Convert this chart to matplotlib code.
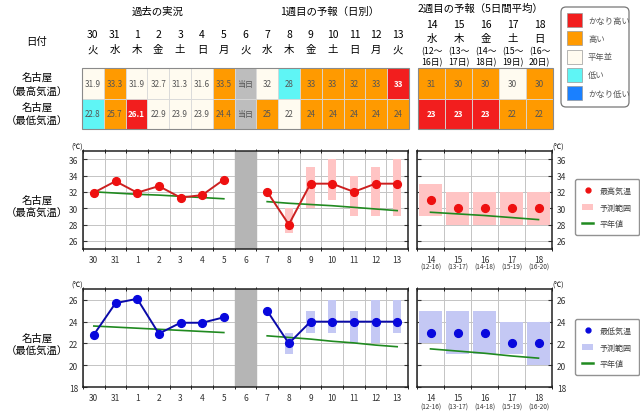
import matplotlib.pyplot as plt
from matplotlib.patches import Rectangle, Patch, FancyBboxPatch
from matplotlib.lines import Line2D

plt.rcParams['font.family'] = ['Noto Sans CJK JP', 'DejaVu Sans']

# ---- data ----
days = ['30', '31', '1', '2', '3', '4', '5', '6', '7', '8', '9', '10', '11', '12', '13']
weekdays = ['火', '水', '木', '金', '土', '日', '月', '火', '水', '木', '金', '土', '日', '月', '火']
today_idx = 7

max_obs = [31.9, 33.3, 31.9, 32.7, 31.3, 31.6, 33.5]
min_obs = [22.8, 25.7, 26.1, 22.9, 23.9, 23.9, 24.4]
max_fc = [32, 28, 33, 33, 32, 33, 33]
min_fc = [25, 22, 24, 24, 24, 24, 24]
max_lo = [None, 27, 30, 31, 29, 29, 29]
max_hi = [None, 30, 35, 36, 34, 35, 36]
min_lo = [None, 21, 23, 23, 22, 22, 23]
min_hi = [None, 23, 25, 26, 25, 26, 26]
max_norm_past = [32.0, 31.85, 31.7, 31.6, 31.45, 31.3, 31.15]
max_norm_fc = [30.8, 30.6, 30.45, 30.3, 30.1, 29.9, 29.7]
min_norm_past = [23.6, 23.5, 23.4, 23.3, 23.2, 23.1, 23.0]
min_norm_fc = [22.7, 22.55, 22.4, 22.2, 22.05, 21.85, 21.7]

w2_days = ['14', '15', '16', '17', '18']
w2_weekdays = ['水', '木', '金', '土', '日']
w2_start = ['12', '13', '14', '15', '16']
w2_end = ['16', '17', '18', '19', '20']
w2_max = [31, 30, 30, 30, 30]
w2_max_lo = [29, 28, 28, 28, 28]
w2_max_hi = [33, 32, 32, 32, 32]
w2_max_norm = [29.5, 29.3, 29.1, 28.85, 28.6]
w2_min = [23, 23, 23, 22, 22]
w2_min_lo = [22, 21, 21, 21, 20]
w2_min_hi = [25, 25, 25, 24, 24]
w2_min_norm = [21.5, 21.3, 21.1, 20.85, 20.65]

# table classes: vh=かなり高い h=高い n=平年並 l=低い vl=かなり低い t=当日
max_cls = ['n', 'h', 'n', 'n', 'n', 'n', 'h', 't', 'n', 'l', 'h', 'h', 'h', 'h', 'vh']
min_cls = ['l', 'h', 'vh', 'n', 'n', 'n', 'h', 't', 'h', 'n', 'h', 'h', 'h', 'h', 'h']
w2_max_cls = ['h', 'h', 'h', 'n', 'h']
w2_min_cls = ['vh', 'vh', 'vh', 'h', 'h']

legend_cls = ['vh', 'h', 'n', 'l', 'vl']
legend_txt = ['かなり高い', '高い', '平年並', '低い', 'かなり低い']

colors = {'vh': '#f21e1e', 'h': '#ff9a00', 'n': '#fffbf0', 'l': '#5ff5f5',
          'vl': '#1a80ff', 't': '#bdbdbd'}

W, H = 640, 414
fig = plt.figure(figsize=(6.4, 4.14), dpi=100)


def px_axes(x0, y0, x1, y1):
    return fig.add_axes([x0 / W, 1 - y1 / H, (x1 - x0) / W, (y1 - y0) / H])


def ftext(x, y, s, **kw):
    fig.text(x / W, 1 - y / H, s, ha='center', va='center', **kw)


txt_gray = '#555555'

# ---- headers ----
ftext(158, 12, '過去の実況', fontsize=7.5)
ftext(330, 12, '1週目の予報（日別）', fontsize=7.5)
ftext(480, 9, '2週目の予報（5日間平均）', fontsize=7.5)
ftext(37, 42, '日付', fontsize=7.5)
ftext(37, 78, '名古屋', fontsize=7.5)
ftext(37, 92, '（最高気温）', fontsize=7.5)
ftext(37, 108, '名古屋', fontsize=7.5)
ftext(37, 122, '（最低気温）', fontsize=7.5)
ftext(37, 201, '名古屋', fontsize=7.5)
ftext(37, 213, '（最高気温）', fontsize=7.5)
ftext(37, 339, '名古屋', fontsize=7.5)
ftext(37, 352, '（最低気温）', fontsize=7.5)

max_txt = ['%.1f' % v for v in max_obs] + ['当日'] + [str(v) for v in max_fc]
min_txt = ['%.1f' % v for v in min_obs] + ['当日'] + [str(v) for v in min_fc]


def draw_table(ax, rows_cls, rows_txt, n):
    ax.set_xlim(-0.5, n - 0.5)
    ax.set_ylim(2, 0)
    ax.axis('off')
    for r, (cls, txt) in enumerate(zip(rows_cls, rows_txt)):
        for i, (c, t) in enumerate(zip(cls, txt)):
            ax.add_patch(Rectangle((i - 0.5, r), 1, 1, facecolor=colors[c],
                                   edgecolor='#d8d8d8', linewidth=0.6))
            bold = c == 'vh'
            ax.text(i, r + 0.5, t, ha='center', va='center', fontsize=5.8,
                    color='white' if bold else txt_gray,
                    fontweight='bold' if bold else 'normal')
    ax.add_patch(Rectangle((-0.5, 0), n, 2, facecolor='none',
                           edgecolor='#8a8a8a', linewidth=0.8, clip_on=False))


tab1 = px_axes(82, 69, 409, 130)
draw_table(tab1, [max_cls, min_cls], [max_txt, min_txt], len(days))
for i, (d, wd) in enumerate(zip(days, weekdays)):
    tab1.text(i, -1.12, d, ha='center', va='center', fontsize=7.5, clip_on=False)
    tab1.text(i, -0.62, wd, ha='center', va='center', fontsize=7.5, clip_on=False)

tab2 = px_axes(418, 69, 553, 130)
draw_table(tab2, [w2_max_cls, w2_min_cls],
           [[str(v) for v in w2_max], [str(v) for v in w2_min]], len(w2_days))
for i in range(len(w2_days)):
    tab2.text(i, -1.44, w2_days[i], ha='center', va='center', fontsize=7.5, clip_on=False)
    tab2.text(i, -0.99, w2_weekdays[i], ha='center', va='center', fontsize=7.5, clip_on=False)
    tab2.text(i, -0.56, '(' + w2_start[i] + '〜', ha='center', va='center', fontsize=6.3, clip_on=False)
    tab2.text(i, -0.22, w2_end[i] + '日)', ha='center', va='center', fontsize=6.3, clip_on=False)

# color legend box
ax_leg = px_axes(560, 7, 630, 109)
ax_leg.set_xlim(0, 70)
ax_leg.set_ylim(102, 0)
ax_leg.axis('off')
ax_leg.add_patch(FancyBboxPatch((1, 1), 68, 100, boxstyle='round,pad=0,rounding_size=5',
                                facecolor='white', edgecolor='#777777', linewidth=0.9))
for k, (c, t) in enumerate(zip(legend_cls, legend_txt)):
    yc = 14 + k * 18.3
    ax_leg.add_patch(Rectangle((7, yc - 7), 15, 14, facecolor=colors[c],
                               edgecolor='#999999', linewidth=0.5))
    ax_leg.text(28, yc, t, ha='left', va='center', fontsize=6, color=txt_gray)


# ---- charts ----
def style_axes(ax, n, ylo, yhi, ticks, right_labels=False):
    ax.set_xlim(-0.5, n - 0.5)
    ax.set_ylim(ylo, yhi)
    ax.set_yticks(ticks)
    ax.set_xticks(range(n))
    ax.set_xticks([i + 0.5 for i in range(-1, n)], minor=True)
    ax.grid(True, which='minor', axis='x', color='#c4c4c4', linewidth=0.7)
    ax.grid(True, which='major', axis='y', color='#c4c4c4', linewidth=0.7)
    ax.tick_params(axis='x', which='major', length=0, labelsize=6, pad=4, colors='#333333')
    ax.tick_params(axis='x', which='minor', length=3, direction='inout', top=True)
    ax.tick_params(axis='y', labelsize=6, length=3, direction='in', left=True, right=True,
                   labelleft=not right_labels, labelright=right_labels, colors='#333333')
    for s in ax.spines.values():
        s.set_linewidth(1.1)
        s.set_color('#222222')
    ax.set_axisbelow(True)


def day_chart(y0, y1, ylo, yhi, ticks, obs, fc, lo, hi, norm_p, norm_f,
              line_c, mark_c, band_c):
    ax = px_axes(83, y0, 408, y1)
    style_axes(ax, len(days), ylo, yhi, ticks)
    ax.set_xticklabels(days)
    ax.axvspan(today_idx - 0.5, today_idx + 0.5, color='#b5b5b5', zorder=2)
    px = list(range(len(obs)))
    fx = [today_idx + 1 + i for i in range(len(fc))]
    for x, a, b in zip(fx, lo, hi):
        if a is not None:
            ax.bar(x, b - a, bottom=a, width=0.37, color=band_c, zorder=1)
    ax.plot(px, norm_p, color='#208a20', linewidth=1.2, zorder=3)
    ax.plot(fx, norm_f, color='#208a20', linewidth=1.2, zorder=3)
    ax.plot(px, obs, color=line_c, linewidth=1.4, marker='o', markersize=5.6,
            markerfacecolor=mark_c, markeredgecolor=mark_c, zorder=4)
    ax.plot(fx, fc, color=line_c, linewidth=1.4, marker='o', markersize=5.6,
            markerfacecolor=mark_c, markeredgecolor=mark_c, zorder=4)
    ax.text(-0.5, yhi, '(℃)', fontsize=5, ha='right', va='bottom', transform=ax.transData)
    return ax


def week2_chart(y0, y1, ylo, yhi, ticks, vals, lo, hi, norm, mark_c, band_c, lab_y):
    ax = px_axes(417, y0, 552, y1)
    style_axes(ax, len(w2_days), ylo, yhi, ticks, right_labels=True)
    ax.set_xticklabels(w2_days)
    x = list(range(len(w2_days)))
    ax.bar(x, [b - a for a, b in zip(lo, hi)], bottom=lo, width=0.86, color=band_c, zorder=1)
    ax.plot(x, norm, color='#208a20', linewidth=1.2, zorder=3)
    ax.plot(x, vals, linestyle='none', marker='o', markersize=5.6,
            color=mark_c, zorder=4)
    ax.text(len(w2_days) - 0.5, yhi, '(℃)', fontsize=5, ha='left', va='bottom')
    for i in x:
        ax.text(i, lab_y, '(' + w2_start[i] + '-' + w2_end[i] + ')', fontsize=4.6,
                ha='center', va='center', color='#333333',
                transform=ax.get_xaxis_transform())
    return ax


day_chart(152, 250, 25, 37, range(26, 37, 2), max_obs, max_fc, max_lo, max_hi,
          max_norm_past, max_norm_fc, '#cc2020', '#ee1010', '#ffc4c4')
week2_chart(152, 250, 25, 37, range(26, 37, 2), w2_max, w2_max_lo, w2_max_hi,
            w2_max_norm, '#ee1010', '#ffc4c4', -0.18)

day_chart(290, 388, 18, 27, range(18, 27, 2), min_obs, min_fc, min_lo, min_hi,
          min_norm_past, min_norm_fc, '#0a0aa8', '#0808dd', '#c4c8f4')
week2_chart(290, 388, 18, 27, range(18, 27, 2), w2_min, w2_min_lo, w2_min_hi,
            w2_min_norm, '#0808dd', '#c4c8f4', -0.2)


def chart_legend(cy, mark_c, band_c, label):
    handles = [Line2D([], [], linestyle='none', marker='o', markersize=3.5, color=mark_c),
               Patch(facecolor=band_c),
               Line2D([], [], color='#208a20', linewidth=1.8)]
    fig.legend(handles, [label, '予測範囲', '平年値'], loc='center',
               bbox_to_anchor=(607 / W, 1 - cy / H), fontsize=5.8, frameon=True,
               fancybox=True, edgecolor='#777777', labelspacing=0.9,
               handlelength=1.4, borderpad=0.9, labelcolor='#444444')


chart_legend(208, '#ee1010', '#ffc4c4', '最高気温')
chart_legend(348, '#0808dd', '#c4c8f4', '最低気温')

fig.savefig('out.png', dpi=100)
